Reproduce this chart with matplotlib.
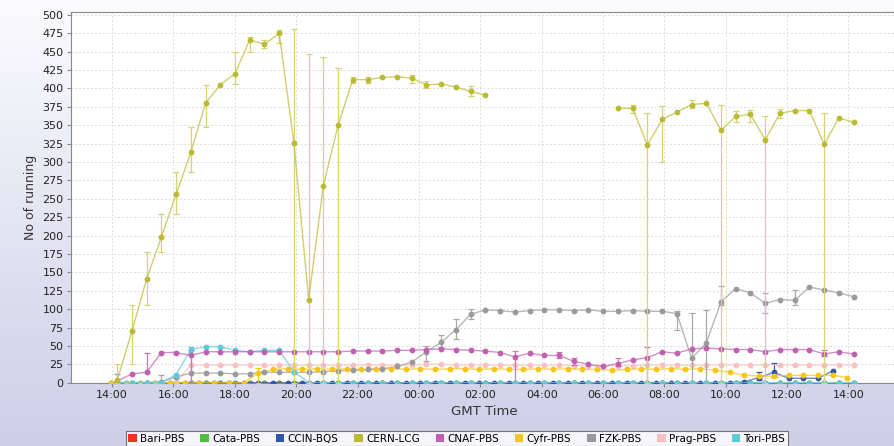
import numpy as np
import matplotlib.pyplot as plt
from matplotlib.patches import Patch

nan = np.nan

# sampling: one point every 28.8 min (50 steps per day), hours after 14:00
t_main = 10 / 60 + 0.48 * np.arange(51)       # 14:10 ... 14:10
t_alt = -2 / 60 + 0.48 * np.arange(51)        # 13:58 ... 13:58

sites = ['Bari-PBS', 'Cata-PBS', 'CCIN-BQS', 'CERN-LCG', 'CNAF-PBS',
         'Cyfr-PBS', 'FZK-PBS', 'Prag-PBS', 'Tori-PBS']
colors = ['#ee3322', '#55bb44', '#3355aa', '#bbbb33', '#c060b0',
          '#f5c518', '#9a9a9a', '#f8c0c0', '#5fcad8']

cern = [3, 70, 141, 198, 256, 313, 380, 405, 420, 466, 460, 475, 326, 113, 268,
        350, 412, 412, 415, 416, 414, 405, 406, 402, 396, 391,
        nan, nan, nan, nan, nan, nan, nan, nan,
        373, 373, 323, 358, 368, 378, 380, 343, 362, 365, 330, 366, 370, 370,
        324, 360, 354]
cern_bar_idx = [0, 1, 2, 3, 4, 5, 6, 8, 9, 10, 11, 12, 13, 14, 15, 16, 17, 20,
                21, 24, 35, 36, 37, 39, 41, 42, 43, 44, 45, 48]
cern_bar_lo = [0, 25, 105, 177, 229, 286, 348, 406, 450, 455, 462, 0, 0, 0, 0,
               408, 408, 408, 400, 390, 366, 0, 300, 374, 0, 355, 355, 0, 360, 0]
cern_bar_hi = [25, 105, 177, 229, 286, 348, 405, 450, 470, 466, 480, 481, 447,
               443, 428, 416, 416, 418, 410, 403, 378, 366, 376, 384, 378, 370,
               371, 362, 372, 367]

cnaf = [2, 12, 14, 41, 41, 37, 42, 42, 42, 42, 42, 42, 42, 42, 42, 42, 43, 43,
        43, 44, 44, 45, 46, 45, 44, 43, 41, 35, 40, 37, 37, 29, 25, 22, 26, 31,
        34, 42, 40, 46, 47, 46, 45, 45, 42, 45, 45, 45, 39, 42, 39]
cnaf_bar_idx = [0, 2, 5, 27, 30, 31, 34, 36, 48]
cnaf_bar_lo = [0, 14, 0, 0, 33, 24, 22, 0, 36]
cnaf_bar_hi = [12, 40, 45, 43, 42, 34, 33, 48, 45]

fzk = [0, 0, 0, 1, 8, 13, 13, 13, 12, 12, 14, 14, 14, 14, 15, 16, 17, 18, 19,
       22, 28, 42, 55, 72, 93, 99, 98, 96, 98, 99, 99, 98, 99, 97, 97, 98, 97,
       97, 94, 33, 54, 110, 128, 122, 108, 113, 112, 130, 126, 122, 117]
fzk_bar_idx = [3, 21, 22, 23, 24, 38, 39, 40, 41, 44, 46]
fzk_bar_lo = [0, 30, 48, 60, 87, 72, 0, 0, 105, 95, 105]
fzk_bar_hi = [10, 50, 65, 86, 100, 97, 95, 99, 131, 122, 126]

prag = [0, 0, 0, 0, 0, 24, 24, 24, 24, 24, 24, 24, 24, 24, 24, 24, 24, 24, 24,
        24, 24, 25, 25, 24, 24, 24, 24, 24, 24, 24, 24, 23, 23, 23, 23, 23, 24,
        24, 24, 24, 24, 24, 24, 24, 24, 24, 24, 24, 24, 24, 24]

tori = [0, 0, 0, 0, 11, 45, 49, 49, 44, 42, 44, 44, 15, 0, 0, 0, 0, 0, 0, 0, 0,
        0, 0, 0, 0, 0, 0, 0, 0, 0, 0, 0, 0, 0, 0, 0, 0, 0, 0, 0, 0, 0, 0, 0, 0,
        0, 0, 0, 0, 0, 0]
tori_bar_idx = [5]
tori_bar_lo = [0]
tori_bar_hi = [48]

zeros = [0] * 51   # Bari-PBS and Cata-PBS never ran anything

cyfr = [0, 0, 0, 0, 0, 0, 0, 0, 0, 0, 13, 18, 19, 18, 19, 18, 19, 18, 18, 19,
        18, 19, 18, 19, 19, 18, 19, 18, 18, 19, 18, 19, 18, 18, 17, 18, 19, 18,
        19, 18, 19, 17, 14, 10, 9, 9, 10, 10, 10, 10, 7]
cyfr_bar_idx = [10]
cyfr_bar_lo = [0]
cyfr_bar_hi = [20]

ccin = [0, 0, 0, 0, 0, 0, 0, 0, 0, 0, 0, 0, 0, 0, 0, 0, 0, 0, 0, 0, 0, 0, 0, 0,
        0, 0, 0, 0, 0, 0, 0, 0, 0, 0, 0, 0, 0, 0, 0, 0, 0, 0, 0, 1, 7, 14, 6, 6,
        6, 16, nan]
ccin_bar_idx = [44, 45]
ccin_bar_lo = [3, 8]
ccin_bar_hi = [14, 27]

x_ticks = list(range(0, 25, 2))
x_labels = ['%02d:00' % ((14 + h) % 24) for h in x_ticks]

fig = plt.figure(figsize=(8.94, 4.46), dpi=100)

# lavender gradient background
bg = fig.add_axes([0, 0, 1, 1], zorder=-10)
grad = np.linspace(0, 1, 256).reshape(-1, 1)
top = np.array([251, 251, 254]) / 255
bot = np.array([206, 206, 232]) / 255
img = top + (bot - top) * grad[:, :, None]
bg.imshow(img, aspect='auto', extent=[0, 1, 0, 1])
bg.axis('off')

ax = fig.add_axes([0.079, 0.142, 0.925, 0.832])
ax.set_facecolor('white')


def draw(t, vals, col, idx=None, lo=None, hi=None, ecol=None, z=3, lw=1.0):
    t = np.asarray(t)
    vals = np.asarray(vals, dtype=float)
    ax.plot(t, vals, '-', color=col, lw=lw, alpha=0.7, zorder=z)
    ax.plot(t, vals, 'o', color=col, ms=4.2, mew=0, zorder=z + 0.1)
    if idx:
        v = vals[idx]
        ax.errorbar(t[idx], v, yerr=[v - np.array(lo), np.array(hi) - v],
                    fmt='none', ecolor=ecol or col, elinewidth=0.9, capsize=2.3,
                    capthick=0.9, zorder=z - 0.05)


draw(t_main, zeros, colors[0], z=2)
draw(t_main, zeros, colors[1], z=2)
draw(t_alt, ccin, colors[2], ccin_bar_idx, ccin_bar_lo, ccin_bar_hi, z=2.5)
draw(t_main, prag, colors[7], z=2.6)
draw(t_alt, cyfr, colors[5], cyfr_bar_idx, cyfr_bar_lo, cyfr_bar_hi, z=2.7)
draw(t_main, fzk, colors[6], fzk_bar_idx, fzk_bar_lo, fzk_bar_hi, '#a8a8a8', z=2.8)
draw(t_main, tori, colors[8], tori_bar_idx, tori_bar_lo, tori_bar_hi, z=2.9)
draw(t_main, cnaf, colors[4], cnaf_bar_idx, cnaf_bar_lo, cnaf_bar_hi, '#cc78bc', z=3.0)
draw(t_main, cern, colors[3], cern_bar_idx, cern_bar_lo, cern_bar_hi, '#d6d372', z=3.2)

ax.set_xlim(-1.35, 25.6)
ax.set_ylim(0, 504.5)
ax.set_yticks(range(0, 501, 25))
ax.set_xticks(x_ticks)
ax.set_xticklabels(x_labels)
ax.tick_params(labelsize=8, length=3, color='#888888', pad=2, labelcolor='#222222')
ax.grid(True, color='#dddddd', ls=(0, (2, 2)), lw=0.7)
ax.set_axisbelow(True)
for s in ['top', 'left', 'bottom']:
    ax.spines[s].set_color('#888888')
ax.spines['right'].set_visible(False)

ax.set_ylabel('No of running', fontsize=9, color='#333333', labelpad=4)
ax.set_xlabel('GMT Time', fontsize=9.5, color='#333333', labelpad=4)

handles = [Patch(facecolor=c, edgecolor='none') for c in colors]
leg = fig.legend(handles, sites, ncol=9, loc='upper center',
                 bbox_to_anchor=(0.511, 0.045), fontsize=7.5, frameon=True,
                 fancybox=False, edgecolor='#555555', handlelength=0.8,
                 handleheight=0.8, handletextpad=0.3, columnspacing=1.55,
                 borderpad=0.25)
leg.get_frame().set_linewidth(0.8)

fig.savefig('out.png', dpi=100)
